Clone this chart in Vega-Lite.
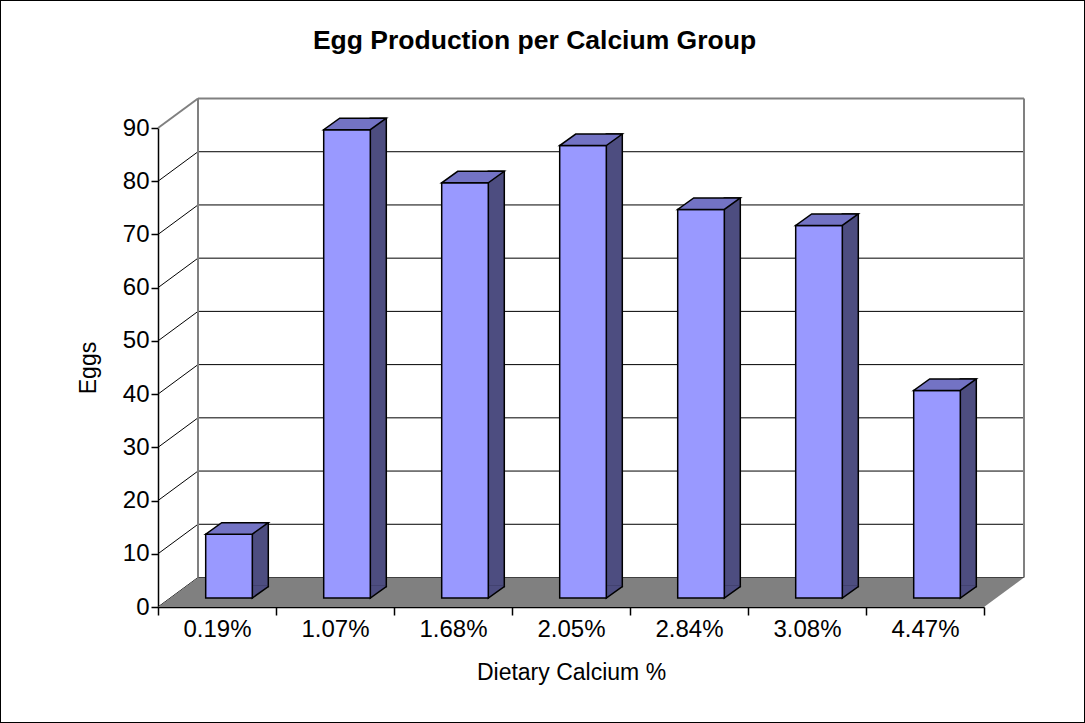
{
  "$schema": "https://vega.github.io/schema/vega-lite/v6.json",
  "width": 1085,
  "height": 723,
  "autosize": {"type": "none"},
  "padding": 0,
  "background": "white",
  "config": {"view": {"stroke": "#000", "strokeWidth": 2}, "font": "Liberation Sans"},
  "title": {"text": "Egg Production per Calcium Group", "font": "Liberation Sans", "fontSize": 26.5, "fontWeight": "bold", "color": "#000", "frame": "group", "anchor": "middle", "offset": -54, "dx": -8},
  "datasets": {
    "eggs": [
      {"cal": "0.19%", "eggs": 12},
      {"cal": "1.07%", "eggs": 88},
      {"cal": "1.68%", "eggs": 78},
      {"cal": "2.05%", "eggs": 85},
      {"cal": "2.84%", "eggs": 73},
      {"cal": "3.08%", "eggs": 70},
      {"cal": "4.47%", "eggs": 39}
    ],
    "grid": [{"v": 0}, {"v": 10}, {"v": 20}, {"v": 30}, {"v": 40}, {"v": 50}, {"v": 60}, {"v": 70}, {"v": 80}, {"v": 90}]
  },
  "layer": [
    {
      "data": {"name": "grid"},
      "mark": {"type": "rule", "x2Offset": 40, "y2Offset": -29.5},
      "encoding": {
        "x": {"datum": "0.19%", "type": "nominal", "bandPosition": 0,
              "scale": {"type": "band", "domain": ["0.19%", "1.07%", "1.68%", "2.05%", "2.84%", "3.08%", "4.47%"], "range": [158, 984], "paddingInner": 0, "paddingOuter": 0}},
        "x2": {"datum": "0.19%", "bandPosition": 0},
        "y": {"field": "v", "type": "quantitative",
              "scale": {"type": "linear", "domain": [0, 90], "range": [607, 128], "nice": false, "zero": true}},
        "y2": {"field": "v"},
        "stroke": {"condition": {"test": "datum.v === 90", "value": "#808080"}, "value": "#000"},
        "strokeWidth": {"condition": {"test": "datum.v === 90", "value": 2}, "value": 1}
      }
    },
    {
      "data": {"name": "grid"},
      "mark": {"type": "rule", "xOffset": 40, "x2Offset": 40, "yOffset": -29.5},
      "encoding": {
        "x": {"datum": "0.19%", "type": "nominal", "bandPosition": 0},
        "x2": {"datum": "4.47%", "bandPosition": 1},
        "y": {"field": "v", "type": "quantitative"},
        "stroke": {"condition": {"test": "datum.v === 90", "value": "#808080"}, "value": "#000"},
        "strokeWidth": {"condition": {"test": "datum.v === 90", "value": 2}, "value": 1}
      }
    },
    {
      "data": {"name": "eggs"},
      "transform": [{"filter": "datum.cal === '0.19%'"}],
      "mark": {"type": "rule", "xOffset": 40, "yOffset": -29.5, "y2Offset": -29.5, "stroke": "#808080", "strokeWidth": 2},
      "encoding": {
        "x": {"datum": "0.19%", "type": "nominal", "bandPosition": 0},
        "y": {"datum": 0, "type": "quantitative"},
        "y2": {"datum": 90}
      }
    },
    {
      "data": {"name": "eggs"},
      "transform": [{"filter": "datum.cal === '0.19%'"}],
      "mark": {"type": "rule", "xOffset": 40, "yOffset": -29.5, "y2Offset": -29.5, "stroke": "#808080", "strokeWidth": 2},
      "encoding": {
        "x": {"datum": "4.47%", "type": "nominal", "bandPosition": 1},
        "y": {"datum": 0, "type": "quantitative"},
        "y2": {"datum": 90}
      }
    },
    {
      "data": {"name": "eggs"},
      "transform": [{"filter": "datum.cal === '2.05%'"}],
      "mark": {"type": "point", "shape": "M-413,0L413,0L453,-29.5L-373,-29.5Z", "size": 4, "filled": true, "fill": "#808080", "strokeWidth": 0, "opacity": 1},
      "encoding": {
        "x": {"field": "cal", "type": "nominal"},
        "y": {"datum": 0, "type": "quantitative"}
      }
    },
    {
      "data": {"name": "eggs"},
      "mark": {"type": "bar", "width": 16, "xOffset": 43.3, "yOffset": -20.5, "y2Offset": -20.5, "fill": "#4D4D80", "stroke": "#000", "strokeWidth": 1.5},
      "encoding": {
        "x": {"field": "cal", "type": "nominal"},
        "y": {"field": "eggs", "type": "quantitative"}
      }
    },
    {
      "data": {"name": "eggs"},
      "mark": {"type": "point", "shape": "M51.3,-21.5L51.3,-20.5L35.3,-9L35.3,-21.5", "size": 4, "filled": true, "fill": "#4D4D80", "stroke": "#000", "strokeWidth": 1.5, "opacity": 1},
      "encoding": {
        "x": {"field": "cal", "type": "nominal"},
        "y": {"datum": 0, "type": "quantitative"}
      }
    },
    {
      "data": {"name": "eggs"},
      "mark": {"type": "bar", "width": 46.6, "xOffset": 12, "yOffset": -9, "y2Offset": -9, "fill": "#9999FF", "stroke": "#000", "strokeWidth": 1.5},
      "encoding": {
        "x": {"field": "cal", "type": "nominal",
              "axis": {"title": "Dietary Calcium %", "orient": "bottom", "offset": -116, "bandPosition": 0.5, "labelAlign": "center", "domainColor": "#000", "domainWidth": 1.5, "tickColor": "#000", "tickWidth": 1.5, "tickSize": 8, "tickBand": "extent", "labelFont": "Liberation Sans", "labelFontSize": 24, "labelColor": "#000", "labelPadding": 14, "labelAngle": 0, "titleFont": "Liberation Sans", "titleFontSize": 23, "titleFontWeight": "normal", "titleColor": "#000", "titlePadding": 20, "grid": false}},
        "y": {"field": "eggs", "type": "quantitative",
              "axis": {"title": "Eggs", "orient": "left", "offset": -158, "values": [0, 10, 20, 30, 40, 50, 60, 70, 80, 90], "domainColor": "#000", "domainWidth": 1.5, "tickColor": "#000", "tickWidth": 1.5, "tickSize": 7, "labelFont": "Liberation Sans", "labelFontSize": 24, "labelColor": "#000", "labelPadding": 2, "titleFont": "Liberation Sans", "titleFontSize": 23, "titleFontWeight": "normal", "titleColor": "#000", "titlePadding": 22, "grid": false}}
      }
    },
    {
      "data": {"name": "eggs"},
      "mark": {"type": "point", "shape": "M-11.3,-9L35.3,-9L51.3,-20.5L4.7,-20.5Z", "size": 4, "filled": true, "fill": "#7373C4", "stroke": "#000", "strokeWidth": 1.5, "opacity": 1},
      "encoding": {
        "x": {"field": "cal", "type": "nominal"},
        "y": {"field": "eggs", "type": "quantitative"}
      }
    }
  ]
}
